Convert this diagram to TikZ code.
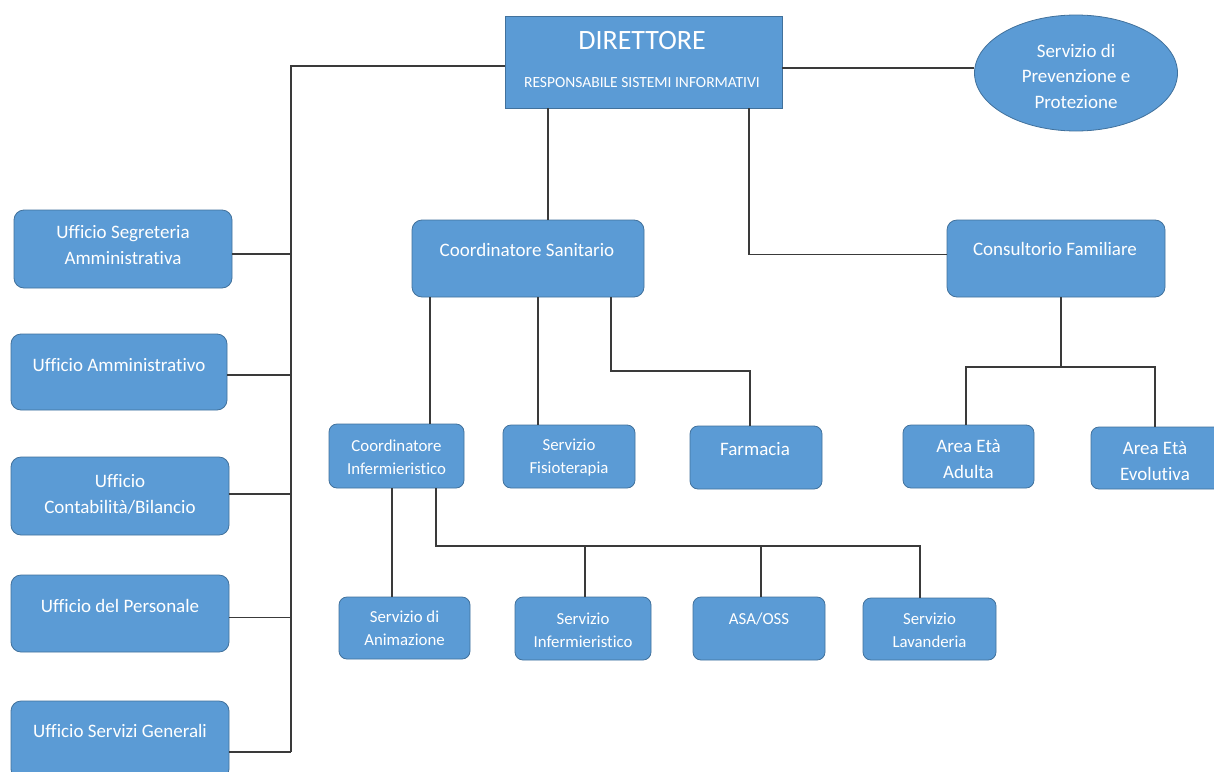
\documentclass[tikz,border=0pt]{standalone}
\usepackage{fontspec}
\setmainfont{Carlito}[Ligatures=NoCommon]
\usetikzlibrary{shapes.geometric}
\definecolor{boxfill}{HTML}{5B9BD5}
\definecolor{boxline}{HTML}{41719C}
\definecolor{wire}{HTML}{3A3A3A}
\tikzset{
  ob/.style={draw=boxline, fill=boxfill, line width=0.8pt, rounded corners=10pt, inner sep=0pt},
  obs/.style={ob, rounded corners=8pt},
  tx/.style={text=white, align=center, inner sep=0pt, font=\fontsize{19}{26}\selectfont},
  txs/.style={tx, font=\fontsize{16.8}{23}\selectfont},
  wire/.style={draw=wire, line width=1.1pt},
}
\newcommand{\obox}[6]{\node[#6, minimum width={#4-#2}, minimum height={#5-#3}] (#1) at ({(#2+#4)/2},{(#3+#5)/2}) {};}
\begin{document}
\begin{tikzpicture}[x=1pt,y=-1pt]
\useasboundingbox[fill=white] (0,0) rectangle (1214,771);
% director
\obox{dir}{505}{16}{782}{108}{ob, rounded corners=0pt}
\node[tx, font=\fontsize{28}{32}\selectfont] (tdir) at (642,41) {DIRETTORE};
\node[tx, font=\fontsize{15.5}{18}\selectfont] (tresp) at (642,83) {RESPONSABILE SISTEMI INFORMATIVI};
% ellipse
\node[ellipse, draw=boxline, fill=boxfill, line width=0.8pt, minimum width=203pt, minimum height=116pt, inner sep=0pt] (ell) at (1076,73) {};
\node[tx, font=\fontsize{19}{25.5}\selectfont] (tell) at (1076,76) {Servizio di\\Prevenzione e\\Protezione};
% left offices
\obox{sas}{14}{210}{232}{288}{ob}
\node[tx] (tsas) at (123,245) {Ufficio Segreteria\\Amministrativa};
\obox{ua}{11}{334}{227}{410}{ob}
\node[tx] (tua) at (119,365) {Ufficio Amministrativo};
\obox{uc}{11}{457}{229}{535}{ob}
\node[tx] (tuc) at (120,494) {Ufficio\\Contabilità/Bilancio};
\obox{up}{11}{575}{229}{652}{ob}
\node[tx] (tup) at (120,606) {Ufficio del Personale};
\obox{sg}{11}{701}{229}{779}{ob}
\node[tx] (tsg) at (120,731) {Ufficio Servizi Generali};
% second level
\obox{cs}{412}{220}{644}{297}{ob}
\node[tx] (tcs) at (527,250) {Coordinatore Sanitario};
\obox{cf}{947}{220}{1165}{297}{ob}
\node[tx] (tcf) at (1055,249) {Consultorio Familiare};
% third level
\obox{ci}{329}{424}{464}{488}{obs}
\node[txs] (tci) at (396.5,457.5) {Coordinatore\\Infermieristico};
\obox{sf}{503}{425}{635}{488}{obs}
\node[txs] (tsf) at (569,458) {Servizio\\Fisioterapia};
\obox{fa}{690}{426}{822}{489}{obs}
\node[tx] (tfa) at (755,449) {Farmacia};
\obox{aa}{903}{425}{1034}{488}{obs}
\node[tx] (taa) at (968.5,459) {Area Età\\Adulta};
\obox{ae}{1091}{427}{1222}{489}{obs}
\node[tx] (tae) at (1155,461) {Area Età\\Evolutiva};
% fourth level
\obox{an}{339}{597}{470}{659}{obs}
\node[txs] (tan) at (404.5,628) {Servizio di\\Animazione};
\obox{si}{515}{597}{651}{660}{obs}
\node[txs] (tsi) at (583,630) {Servizio\\Infermieristico};
\obox{ao}{693}{597}{825}{660}{obs}
\node[txs] (tao) at (759,619) {ASA/OSS};
\obox{ls}{863}{598}{996}{660}{obs}
\node[txs] (tls) at (929.5,630) {Servizio\\Lavanderia};
% connectors
\coordinate (bt) at (291,66);
\coordinate (bb) at (291,752);
\draw[wire] (bb) -- (bt) -- (bt -| dir.west);
\draw[wire] ([yshift=-5pt]sas.east) -- ([yshift=-5pt]sas.east -| bt);
\draw[wire] ([yshift=-3pt]ua.east) -- ([yshift=-3pt]ua.east -| bt);
\draw[wire] ([yshift=2pt]uc.east) -- ([yshift=2pt]uc.east -| bt);
\draw[wire] ([yshift=-4pt]up.east) -- ([yshift=-4pt]up.east -| bt);
\draw[wire] (bb -| sg.east) -- (bb);
\draw[wire] ([yshift=-6pt]dir.east) -- ([yshift=-6pt]dir.east -| ell.west);
\draw[wire] (548,0 |- dir.south) -- (548,0 |- cs.north);
\draw[wire] (749,0 |- dir.south) |- ([yshift=4pt]cf.west);
\draw[wire] (430,0 |- cs.south) -- (430,0 |- ci.north);
\draw[wire] (538,0 |- cs.south) -- (538,0 |- sf.north);
\draw[wire] (611,0 |- cs.south) |- (750,371) -- (750,0 |- fa.north);
\draw[wire] (1061,0 |- cf.south) -- (1061,367);
\draw[wire] (966,0 |- aa.north) |- (1155,367) -- (1155,0 |- ae.north);
\draw[wire] (392,0 |- ci.south) -- (392,0 |- an.north);
\draw[wire] (436,0 |- ci.south) |- (920,546) -- (920,0 |- ls.north);
\draw[wire] (585,0 |- si.north) -- (585,546);
\draw[wire] (761,0 |- ao.north) -- (761,546);
\end{tikzpicture}
\end{document}
